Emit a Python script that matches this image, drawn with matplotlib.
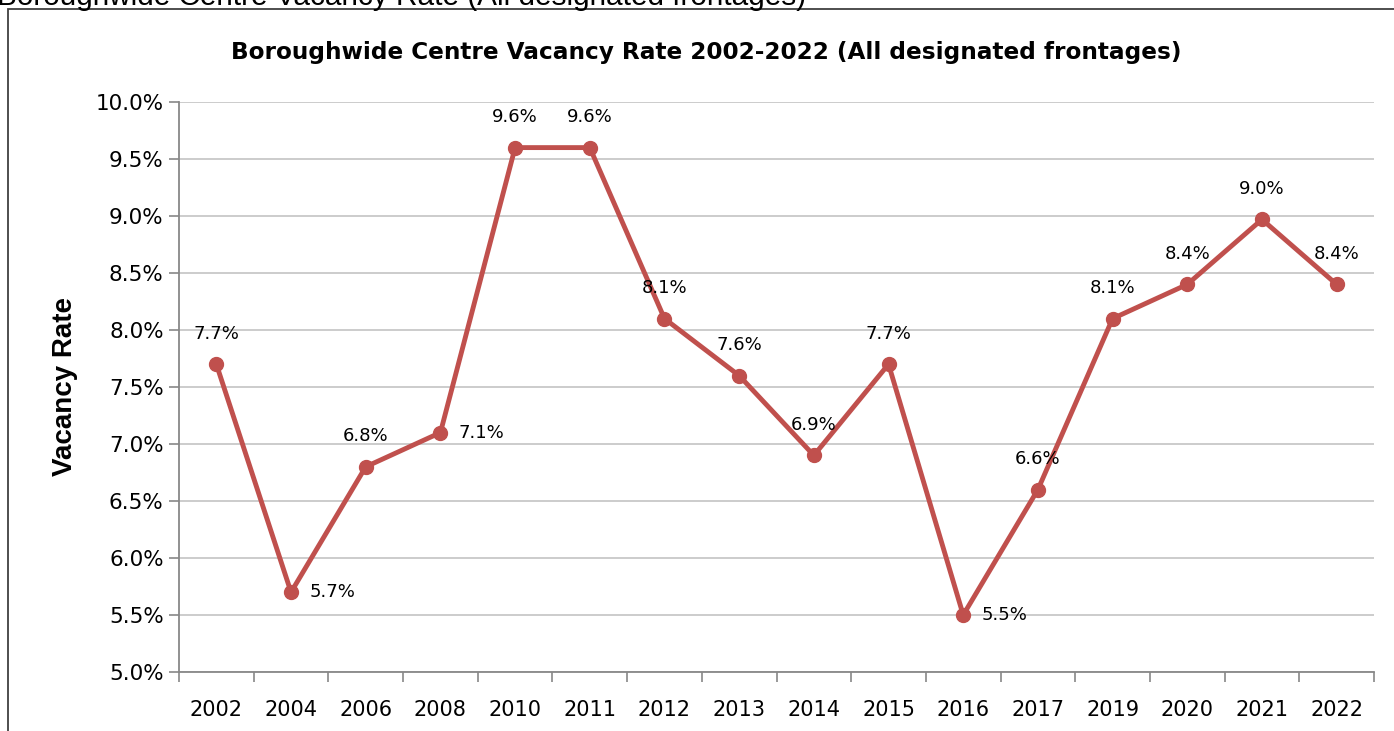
import matplotlib
matplotlib.use("Agg")
import matplotlib.pyplot as plt
from matplotlib.patches import Rectangle
from matplotlib.ticker import FixedLocator, FuncFormatter, NullFormatter

years = ['2002', '2004', '2006', '2008', '2010', '2011', '2012', '2013',
         '2014', '2015', '2016', '2017', '2019', '2020', '2021', '2022']
rates = [7.7, 5.7, 6.8, 7.1, 9.6, 9.6, 8.1, 7.6, 6.9, 7.7, 5.5, 6.6, 8.1, 8.4, 8.97, 8.4]
y_ticks = [5.0, 5.5, 6.0, 6.5, 7.0, 7.5, 8.0, 8.5, 9.0, 9.5, 10.0]
right_label_years = ['2004', '2008', '2016']

title = 'Boroughwide Centre Vacancy Rate 2002-2022 (All designated frontages)'
outer_title = 'Boroughwide Centre Vacancy Rate (All designated frontages)'
y_label = 'Vacancy Rate'

W, H = 1394, 731
fig = plt.figure(figsize=(W / 100, H / 100), dpi=100)
plt.rcParams['font.family'] = ['DejaVu Sans']

# outer caption (clipped at top, as in the source) and frame
fig.text(-0.002, 1 - 5 / H, outer_title, family=['Liberation Sans'], fontsize=21.4,
         va='baseline', ha='left', color='black')
fig.patches.append(Rectangle((8 / W, -0.1), 1.2, 1.1 - 9 / H, transform=fig.transFigure,
                             fill=False, edgecolor='#404040', linewidth=1.3))

ax = fig.add_axes([179 / W, 1 - 672 / H, (1374 - 179) / W, (672 - 102) / H])
x = list(range(len(years)))
color = '#C0504D'
ax.plot(x, rates, color=color, linewidth=3.5, marker='o', markersize=10,
        markerfacecolor=color, markeredgecolor=color, zorder=3)

for i, (yr, v) in enumerate(zip(years, rates)):
    txt = f'{v:.1f}%'
    if yr in right_label_years:
        ax.annotate(txt, (i, v), xytext=(13, 0), textcoords='offset points',
                    ha='left', va='center', fontsize=13)
    else:
        ax.annotate(txt, (i, v), xytext=(0, 22), textcoords='offset points',
                    ha='center', va='center', fontsize=13)

ax.set_xlim(-0.5, len(years) - 0.5)
ax.set_ylim(5.0, 10.0)
ax.set_yticks(y_ticks)
ax.yaxis.set_major_formatter(FuncFormatter(lambda v, p: f'{v:.1f}%'))
ax.set_xticks(x)
ax.set_xticklabels(years)
ax.xaxis.set_minor_locator(FixedLocator([i - 0.5 for i in range(len(years) + 1)]))
ax.xaxis.set_minor_formatter(NullFormatter())
ax.tick_params(axis='x', which='major', length=0, pad=20, labelsize=15)
ax.tick_params(axis='x', which='minor', length=7, color='#888888', width=1.2)
ax.tick_params(axis='y', which='major', length=7, color='#888888', width=1.2, pad=4, labelsize=15.5)

ax.grid(axis='y', color='#C8C8C8', linewidth=1.3)
ax.set_axisbelow(True)
for s in ['top', 'right']:
    ax.spines[s].set_visible(False)
for s in ['left', 'bottom']:
    ax.spines[s].set_color('#888888')
    ax.spines[s].set_linewidth(1.3)

ax.set_ylabel(y_label, fontsize=20, fontweight='bold', family=['Liberation Sans'], labelpad=13)
fig.text(706 / W, 1 - 52 / H, title, fontsize=16.7,
         fontweight='bold', ha='center', va='center')

fig.savefig('out.png', dpi=100)
